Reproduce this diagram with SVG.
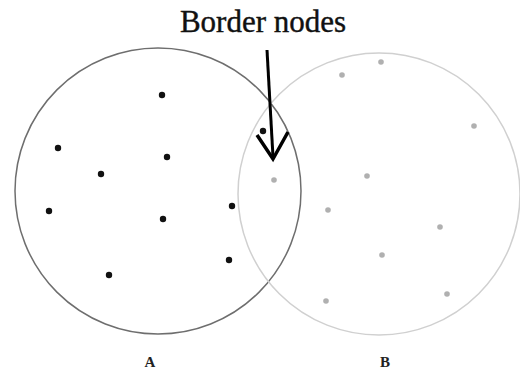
<svg xmlns="http://www.w3.org/2000/svg" width="520" height="370" viewBox="0 0 520 370">
<style>
.a{fill:#111}
.b{fill:#b0b0b0}
.lbl{font-family:"Liberation Serif",serif;font-weight:bold;font-size:15px;fill:#222;text-anchor:middle}
</style>
<rect width="520" height="370" fill="#fff"/>
<g id="circleA"><circle cx="158" cy="191" r="143" fill="none" stroke="#6e6e6e" stroke-width="1.5"/></g>
<g id="circleB"><circle cx="379" cy="194" r="141" fill="none" stroke="#d0d0d0" stroke-width="1.5"/></g>
<g id="nodesA">
<circle class="a" cx="162" cy="95" r="3.2"/>
<circle class="a" cx="58" cy="148" r="3.2"/>
<circle class="a" cx="167" cy="157" r="3.2"/>
<circle class="a" cx="101" cy="174" r="3.2"/>
<circle class="a" cx="49" cy="211" r="3.2"/>
<circle class="a" cx="163" cy="219" r="3.2"/>
<circle class="a" cx="232" cy="206" r="3.2"/>
<circle class="a" cx="229" cy="260" r="3.2"/>
<circle class="a" cx="109" cy="275" r="3.2"/>
<circle class="a" cx="263" cy="131" r="3.2"/>
</g>
<g id="nodesB">
<circle class="b" cx="381" cy="62" r="2.8"/>
<circle class="b" cx="342" cy="75" r="2.8"/>
<circle class="b" cx="474" cy="126" r="2.8"/>
<circle class="b" cx="367" cy="176" r="2.8"/>
<circle class="b" cx="274" cy="180" r="2.8"/>
<circle class="b" cx="328" cy="210" r="2.8"/>
<circle class="b" cx="440" cy="227" r="2.8"/>
<circle class="b" cx="382" cy="255" r="2.8"/>
<circle class="b" cx="326" cy="301" r="2.8"/>
<circle class="b" cx="447" cy="294" r="2.8"/>
</g>
<g id="connectors">
<line x1="267" y1="50" x2="273" y2="157" stroke="#000" stroke-width="3"/>
<polyline points="257,135 273,159 288,132" fill="none" stroke="#000" stroke-width="3.5" stroke-linejoin="miter"/>
</g>
<g id="title"><text x="263" y="32" font-family="'Liberation Serif',serif" font-size="31" fill="#111" stroke="#111" stroke-width="0.4" text-anchor="middle">Border nodes</text></g>
<g id="labelA"><text class="lbl" x="150" y="367">A</text></g>
<g id="labelB"><text class="lbl" x="385" y="367">B</text></g>
</svg>
